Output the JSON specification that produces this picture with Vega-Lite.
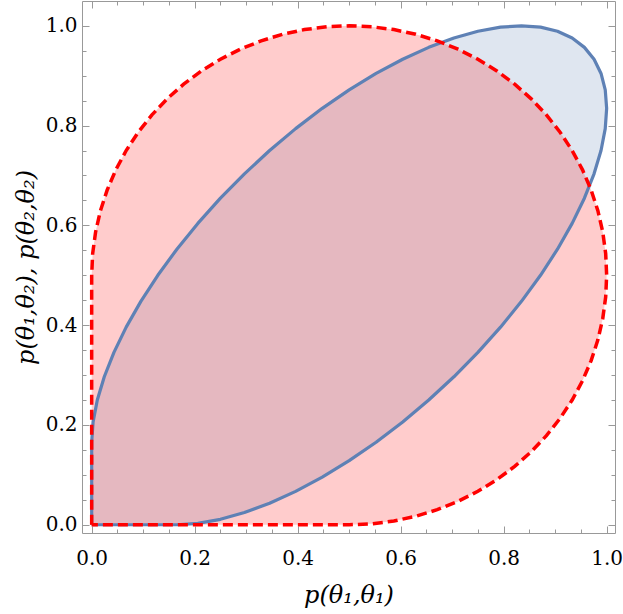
{
  "$schema": "https://vega.github.io/schema/vega-lite/v6.json",
  "width": 533,
  "height": 532,
  "autosize": {"type": "none"},
  "padding": {"left": 82, "top": 1, "right": 8, "bottom": 81},
  "background": "white",
  "config": {
    "view": {"stroke": null},
    "font": "DejaVu Serif",
    "axis": {
      "grid": false,
      "domainColor": "#999999",
      "tickColor": "#999999",
      "labelColor": "black",
      "labelFont": "DejaVu Serif",
      "labelFontSize": 20,
      "titleFont": "DejaVu Serif",
      "titleFontSize": 24,
      "titleFontWeight": "normal",
      "titleFontStyle": "italic",
      "titleColor": "black",
      "zindex": 1
    }
  },
  "datasets": {
    "blue": [
      {"i": 0, "x": 0, "y": 0},
      {"i": 1, "x": 0.16543, "y": 0},
      {"i": 2, "x": 0.20611, "y": 0.00274},
      {"i": 3, "x": 0.25, "y": 0.01093},
      {"i": 4, "x": 0.29663, "y": 0.02447},
      {"i": 5, "x": 0.34549, "y": 0.04323},
      {"i": 6, "x": 0.39604, "y": 0.06699},
      {"i": 7, "x": 0.44774, "y": 0.09549},
      {"i": 8, "x": 0.5, "y": 0.12843},
      {"i": 9, "x": 0.55226, "y": 0.16543},
      {"i": 10, "x": 0.60396, "y": 0.20611},
      {"i": 11, "x": 0.65451, "y": 0.25},
      {"i": 12, "x": 0.70337, "y": 0.29663},
      {"i": 13, "x": 0.75, "y": 0.34549},
      {"i": 14, "x": 0.79389, "y": 0.39604},
      {"i": 15, "x": 0.83457, "y": 0.44774},
      {"i": 16, "x": 0.87157, "y": 0.5},
      {"i": 17, "x": 0.90451, "y": 0.55226},
      {"i": 18, "x": 0.93301, "y": 0.60396},
      {"i": 19, "x": 0.95677, "y": 0.65451},
      {"i": 20, "x": 0.97553, "y": 0.70337},
      {"i": 21, "x": 0.98907, "y": 0.75},
      {"i": 22, "x": 0.99726, "y": 0.79389},
      {"i": 23, "x": 1, "y": 0.83457},
      {"i": 24, "x": 0.99726, "y": 0.87157},
      {"i": 25, "x": 0.98907, "y": 0.90451},
      {"i": 26, "x": 0.97553, "y": 0.93301},
      {"i": 27, "x": 0.95677, "y": 0.95677},
      {"i": 28, "x": 0.93301, "y": 0.97553},
      {"i": 29, "x": 0.90451, "y": 0.98907},
      {"i": 30, "x": 0.87157, "y": 0.99726},
      {"i": 31, "x": 0.83457, "y": 1},
      {"i": 32, "x": 0.79389, "y": 0.99726},
      {"i": 33, "x": 0.75, "y": 0.98907},
      {"i": 34, "x": 0.70337, "y": 0.97553},
      {"i": 35, "x": 0.65451, "y": 0.95677},
      {"i": 36, "x": 0.60396, "y": 0.93301},
      {"i": 37, "x": 0.55226, "y": 0.90451},
      {"i": 38, "x": 0.5, "y": 0.87157},
      {"i": 39, "x": 0.44774, "y": 0.83457},
      {"i": 40, "x": 0.39604, "y": 0.79389},
      {"i": 41, "x": 0.34549, "y": 0.75},
      {"i": 42, "x": 0.29663, "y": 0.70337},
      {"i": 43, "x": 0.25, "y": 0.65451},
      {"i": 44, "x": 0.20611, "y": 0.60396},
      {"i": 45, "x": 0.16543, "y": 0.55226},
      {"i": 46, "x": 0.12843, "y": 0.5},
      {"i": 47, "x": 0.09549, "y": 0.44774},
      {"i": 48, "x": 0.06699, "y": 0.39604},
      {"i": 49, "x": 0.04323, "y": 0.34549},
      {"i": 50, "x": 0.02447, "y": 0.29663},
      {"i": 51, "x": 0.01093, "y": 0.25},
      {"i": 52, "x": 0.00274, "y": 0.20611},
      {"i": 53, "x": 0, "y": 0.16543},
      {"i": 54, "x": 0, "y": 0}
    ],
    "red": [
      {"i": 0, "x": 0, "y": 0},
      {"i": 1, "x": 0, "y": 0.5},
      {"i": 2, "x": 0.0019, "y": 0.54358},
      {"i": 3, "x": 0.0076, "y": 0.58682},
      {"i": 4, "x": 0.01704, "y": 0.62941},
      {"i": 5, "x": 0.03015, "y": 0.67101},
      {"i": 6, "x": 0.04684, "y": 0.71131},
      {"i": 7, "x": 0.06699, "y": 0.75},
      {"i": 8, "x": 0.09042, "y": 0.78679},
      {"i": 9, "x": 0.11698, "y": 0.82139},
      {"i": 10, "x": 0.14645, "y": 0.85355},
      {"i": 11, "x": 0.17861, "y": 0.88302},
      {"i": 12, "x": 0.21321, "y": 0.90958},
      {"i": 13, "x": 0.25, "y": 0.93301},
      {"i": 14, "x": 0.28869, "y": 0.95316},
      {"i": 15, "x": 0.32899, "y": 0.96985},
      {"i": 16, "x": 0.37059, "y": 0.98296},
      {"i": 17, "x": 0.41318, "y": 0.9924},
      {"i": 18, "x": 0.45642, "y": 0.9981},
      {"i": 19, "x": 0.5, "y": 1},
      {"i": 20, "x": 0.54358, "y": 0.9981},
      {"i": 21, "x": 0.58682, "y": 0.9924},
      {"i": 22, "x": 0.62941, "y": 0.98296},
      {"i": 23, "x": 0.67101, "y": 0.96985},
      {"i": 24, "x": 0.71131, "y": 0.95316},
      {"i": 25, "x": 0.75, "y": 0.93301},
      {"i": 26, "x": 0.78679, "y": 0.90958},
      {"i": 27, "x": 0.82139, "y": 0.88302},
      {"i": 28, "x": 0.85355, "y": 0.85355},
      {"i": 29, "x": 0.88302, "y": 0.82139},
      {"i": 30, "x": 0.90958, "y": 0.78679},
      {"i": 31, "x": 0.93301, "y": 0.75},
      {"i": 32, "x": 0.95316, "y": 0.71131},
      {"i": 33, "x": 0.96985, "y": 0.67101},
      {"i": 34, "x": 0.98296, "y": 0.62941},
      {"i": 35, "x": 0.9924, "y": 0.58682},
      {"i": 36, "x": 0.9981, "y": 0.54358},
      {"i": 37, "x": 1, "y": 0.5},
      {"i": 38, "x": 0.9981, "y": 0.45642},
      {"i": 39, "x": 0.9924, "y": 0.41318},
      {"i": 40, "x": 0.98296, "y": 0.37059},
      {"i": 41, "x": 0.96985, "y": 0.32899},
      {"i": 42, "x": 0.95316, "y": 0.28869},
      {"i": 43, "x": 0.93301, "y": 0.25},
      {"i": 44, "x": 0.90958, "y": 0.21321},
      {"i": 45, "x": 0.88302, "y": 0.17861},
      {"i": 46, "x": 0.85355, "y": 0.14645},
      {"i": 47, "x": 0.82139, "y": 0.11698},
      {"i": 48, "x": 0.78679, "y": 0.09042},
      {"i": 49, "x": 0.75, "y": 0.06699},
      {"i": 50, "x": 0.71131, "y": 0.04684},
      {"i": 51, "x": 0.67101, "y": 0.03015},
      {"i": 52, "x": 0.62941, "y": 0.01704},
      {"i": 53, "x": 0.58682, "y": 0.0076},
      {"i": 54, "x": 0.54358, "y": 0.0019},
      {"i": 55, "x": 0.5, "y": 0},
      {"i": 56, "x": 0, "y": 0}
    ]
  },
  "layer": [
    {
      "data": {"name": "blue"},
      "mark": {"type": "line", "fill": "#5e81b5", "fillOpacity": 0.2, "strokeOpacity": 0, "strokeWidth": 0},
      "encoding": {
        "x": {"field": "x", "type": "quantitative", "scale": {"domain": [-0.0188, 1.0162], "nice": false, "zero": false},
          "axis": {"orient": "bottom", "values": [0, 0.2, 0.4, 0.6, 0.8, 1], "format": ".1f", "tickSize": -7, "labelPadding": 22, "title": "p(θ₁,θ₁)", "titlePadding": 15}},
        "y": {"field": "y", "type": "quantitative", "scale": {"domain": [-0.0165, 1.0497], "nice": false, "zero": false},
          "axis": {"orient": "left", "values": [0, 0.2, 0.4, 0.6, 0.8, 1], "format": ".1f", "tickSize": -7, "labelPadding": 12, "title": "p(θ₁,θ₂), p(θ₂,θ₂)", "titlePadding": 7}},
        "order": {"field": "i", "type": "quantitative"}
      }
    },
    {
      "data": {"name": "red"},
      "mark": {"type": "line", "fill": "#ff0000", "fillOpacity": 0.2, "strokeOpacity": 0, "strokeWidth": 0},
      "encoding": {
        "x": {"field": "x", "type": "quantitative", "scale": {"domain": [-0.0188, 1.0162], "nice": false, "zero": false},
          "axis": {"orient": "bottom", "values": [0.05, 0.1, 0.15, 0.25, 0.3, 0.35, 0.45, 0.5, 0.55, 0.65, 0.7, 0.75, 0.85, 0.9, 0.95], "tickSize": -4, "labels": false, "domain": false, "title": null}},
        "y": {"field": "y", "type": "quantitative", "scale": {"domain": [-0.0165, 1.0497], "nice": false, "zero": false},
          "axis": {"orient": "left", "values": [0.05, 0.1, 0.15, 0.25, 0.3, 0.35, 0.45, 0.5, 0.55, 0.65, 0.7, 0.75, 0.85, 0.9, 0.95], "tickSize": -4, "labels": false, "domain": false, "title": null}},
        "order": {"field": "i", "type": "quantitative"}
      }
    },
    {
      "data": {"name": "blue"},
      "mark": {"type": "line", "stroke": "#5e81b5", "strokeWidth": 3.2, "strokeJoin": "round"},
      "encoding": {
        "x": {"field": "x", "type": "quantitative", "scale": {"domain": [-0.0188, 1.0162], "nice": false, "zero": false},
          "axis": {"orient": "top", "values": [0, 0.2, 0.4, 0.6, 0.8, 1], "tickSize": -7, "labels": false, "title": null}},
        "y": {"field": "y", "type": "quantitative", "scale": {"domain": [-0.0165, 1.0497], "nice": false, "zero": false},
          "axis": {"orient": "right", "values": [0, 0.2, 0.4, 0.6, 0.8, 1], "tickSize": -7, "labels": false, "title": null}},
        "order": {"field": "i", "type": "quantitative"}
      }
    },
    {
      "data": {"name": "red"},
      "mark": {"type": "line", "stroke": "#ff0000", "strokeWidth": 3.5, "strokeDash": [10, 5]},
      "encoding": {
        "x": {"field": "x", "type": "quantitative", "scale": {"domain": [-0.0188, 1.0162], "nice": false, "zero": false},
          "axis": {"orient": "top", "values": [0.05, 0.1, 0.15, 0.25, 0.3, 0.35, 0.45, 0.5, 0.55, 0.65, 0.7, 0.75, 0.85, 0.9, 0.95], "tickSize": -4, "labels": false, "domain": false, "title": null}},
        "y": {"field": "y", "type": "quantitative", "scale": {"domain": [-0.0165, 1.0497], "nice": false, "zero": false},
          "axis": {"orient": "right", "values": [0.05, 0.1, 0.15, 0.25, 0.3, 0.35, 0.45, 0.5, 0.55, 0.65, 0.7, 0.75, 0.85, 0.9, 0.95], "tickSize": -4, "labels": false, "domain": false, "title": null}},
        "order": {"field": "i", "type": "quantitative"}
      }
    }
  ],
  "resolve": {"axis": {"x": "independent", "y": "independent"}}
}
